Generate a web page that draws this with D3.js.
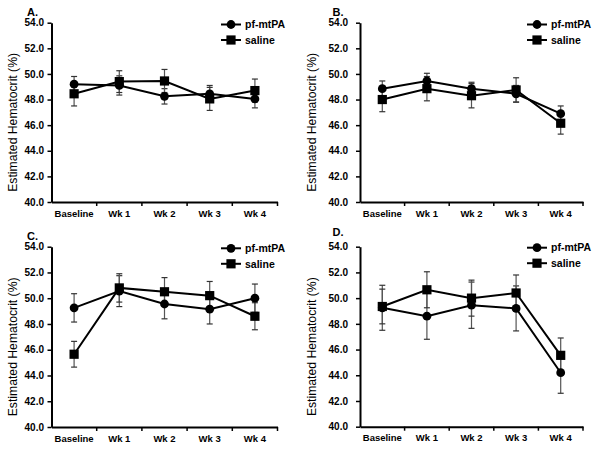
<!DOCTYPE html>
<html>
<head>
<meta charset="utf-8">
<script src="https://cdn.jsdelivr.net/npm/d3@7"></script>
<style>
  body { margin: 0; background: #fff; }
  svg { display: block; font-family: "Liberation Sans", Arial, sans-serif; }
  .axis path, .axis line { stroke: #000; }
  .axis text { font-weight: bold; fill: #000; }
</style>
</head>
<body>
<div id="chart"></div>
<script>
const categories = ["Baseline", "Wk 1", "Wk 2", "Wk 3", "Wk 4"];
const seriesNames = ["pf-mtPA", "saline"];
const panelLabels = ["A.", "B.", "C.", "D."];
const yTicks = [40, 42, 44, 46, 48, 50, 52, 54];

// mean and error (+/-) per panel
const pfA = [49.2, 49.1, 48.25, 48.45, 48.05];
const pfAErr = [0.6, 0.75, 0.6, 0.65, 0.7];
const salA = [48.45, 49.4, 49.45, 48.05, 48.7];
const salAErr = [0.95, 0.85, 0.9, 0.9, 0.9];

const pfB = [48.85, 49.45, 48.85, 48.45, 46.9];
const pfBErr = [0.6, 0.6, 0.5, 0.65, 0.6];
const salB = [48.0, 48.85, 48.3, 48.75, 46.15];
const salBErr = [0.95, 0.95, 0.95, 0.95, 0.85];

const pfC = [49.25, 50.55, 49.55, 49.15, 50.0];
const pfCErr = [1.1, 1.2, 1.15, 1.15, 1.1];
const salC = [45.65, 50.8, 50.5, 50.2, 48.6];
const salCErr = [1.0, 1.1, 1.1, 1.1, 1.05];

const pfD = [49.25, 48.6, 49.45, 49.2, 44.2];
const pfDErr = [1.75, 1.8, 1.8, 1.75, 1.6];
const salD = [49.35, 50.65, 50.0, 50.4, 45.55];
const salDErr = [1.35, 1.4, 1.4, 1.4, 1.35];

const panelData = [
    [pfA, pfAErr, salA, salAErr],
    [pfB, pfBErr, salB, salBErr],
    [pfC, pfCErr, salC, salCErr],
    [pfD, pfDErr, salD, salDErr]
];

// layout of each panel in page pixels
const layout = [
    {x0: 51.5, x1: 277.5, top: 22.7, bottom: 202, pad: 3.5, titleX: 13.5, letter: [27, 15.5], legX: 221, legY: 24.5},
    {x0: 360, x1: 583, top: 22.7, bottom: 202, pad: 8, titleX: 313, letter: [332.5, 16], legX: 527, legY: 24.5},
    {x0: 51.5, x1: 277.5, top: 246.7, bottom: 427, pad: 3.5, titleX: 13.5, letter: [27, 239.5], legX: 221, legY: 248.3},
    {x0: 360, x1: 583, top: 246.7, bottom: 426.7, pad: 8, titleX: 313, letter: [332.5, 236], legX: 527, legY: 247.7}
];

const svg = d3.select("#chart").append("svg")
    .attr("width", 600)
    .attr("height", 450);

function drawMarker(g, type, cx, cy) {
    if (type === 0) {
        g.append("circle").attr("cx", cx).attr("cy", cy).attr("r", 4.4).attr("fill", "#000");
    } else {
        g.append("rect").attr("x", cx - 4.6).attr("y", cy - 4.6)
            .attr("width", 9.2).attr("height", 9.2).attr("fill", "#000");
    }
}

layout.forEach((p, pi) => {
    const [pf, pfErr, sal, salErr] = panelData[pi];
    const g = svg.append("g");

    const x = d3.scaleBand().domain(categories).range([p.x0, p.x1]);
    const y = d3.scaleLinear().domain([40, 54]).range([p.bottom, p.top]);

    // y axis
    const yAxis = g.append("g")
        .attr("class", "axis")
        .attr("transform", "translate(" + p.x0 + ",0)")
        .call(d3.axisLeft(y).tickValues(yTicks).tickFormat(d3.format(".1f"))
            .tickSize(4).tickSizeOuter(0).tickPadding(p.pad));
    yAxis.select(".domain").attr("stroke-width", 2);
    yAxis.selectAll(".tick line").attr("stroke-width", 1.5);
    yAxis.selectAll("text").attr("font-size", "10px");

    // x axis, labels centred in bands, ticks on band edges
    const xAxis = g.append("g")
        .attr("class", "axis")
        .attr("transform", "translate(0," + p.bottom + ")")
        .call(d3.axisBottom(x).tickSize(0).tickSizeOuter(0).tickPadding(8));
    xAxis.select(".domain").attr("stroke-width", 2);
    xAxis.selectAll("text").attr("font-size", "9.5px");
    const edges = categories.map(c => x(c)).concat([x(categories[categories.length - 1]) + x.bandwidth()]);
    g.selectAll(".xedge")
        .data(edges.slice(1))
        .enter()
        .append("line")
        .attr("x1", d => d).attr("x2", d => d)
        .attr("y1", p.bottom).attr("y2", p.bottom + 4)
        .attr("stroke", "#000").attr("stroke-width", 1.5);

    // y title
    g.append("text")
        .attr("transform", "translate(" + p.titleX + "," + ((p.top + p.bottom) / 2 + 10) + ") rotate(-90)")
        .attr("text-anchor", "middle")
        .attr("dominant-baseline", "middle")
        .attr("font-size", "12.2px")
        .text("Estimated Hematocrit (%)");

    // panel letter
    g.append("text")
        .attr("x", p.letter[0]).attr("y", p.letter[1])
        .attr("font-size", "11px").attr("font-weight", "bold")
        .text(panelLabels[pi]);

    const cx = c => x(c) + x.bandwidth() / 2;
    const series = [[pf, pfErr], [sal, salErr]];

    // error bars
    series.forEach(([vals, errs]) => {
        categories.forEach((c, i) => {
            const xx = cx(c), hi = y(vals[i] + errs[i]), lo = y(vals[i] - errs[i]);
            g.append("line").attr("x1", xx).attr("x2", xx).attr("y1", hi).attr("y2", lo)
                .attr("stroke", "#555").attr("stroke-width", 1.2);
            [hi, lo].forEach(yy => {
                g.append("line").attr("x1", xx - 3).attr("x2", xx + 3).attr("y1", yy).attr("y2", yy)
                    .attr("stroke", "#333").attr("stroke-width", 1.2);
            });
        });
    });

    // lines
    const line = d3.line().x((d, i) => cx(categories[i])).y(d => y(d));
    series.forEach(([vals]) => {
        g.append("path").attr("d", line(vals))
            .attr("fill", "none").attr("stroke", "#000").attr("stroke-width", 2);
    });

    // markers
    series.forEach(([vals], si) => {
        categories.forEach((c, i) => drawMarker(g, si, cx(c), y(vals[i])));
    });

    // legend
    seriesNames.forEach((name, si) => {
        const ly = p.legY + si * 15.5;
        g.append("line").attr("x1", p.legX).attr("x2", p.legX + 20)
            .attr("y1", ly).attr("y2", ly).attr("stroke", "#000").attr("stroke-width", 2);
        drawMarker(g, si, p.legX + 10, ly);
        g.append("text").attr("x", p.legX + 24).attr("y", ly)
            .attr("dy", "0.36em")
            .attr("font-size", "10.5px").attr("font-weight", "bold")
            .text(name);
    });
});
</script>
</body>
</html>
